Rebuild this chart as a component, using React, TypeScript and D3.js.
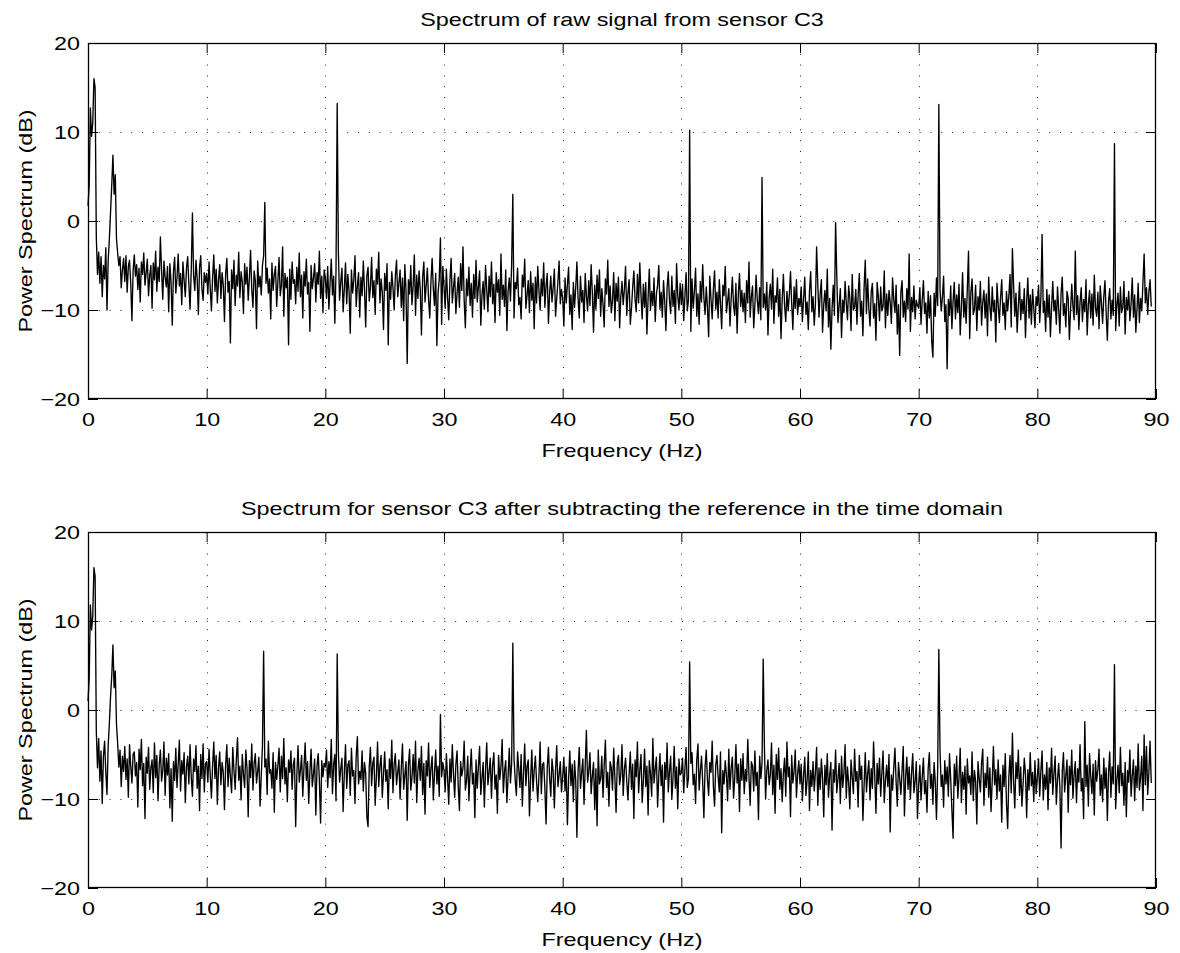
import React, { useEffect, useRef } from "react";
import * as d3 from "d3";

// spectrum bins are 0.1 Hz apart, 0 .. 89.6 Hz
const STEP = 0.1;

// raw signal, noise floor in dB, one array per 10 Hz band
const raw0 = [1.7, 4, 12.7, 9.5, 11, 16, 15, -1.8, -6, -3.5,
  -7, -4, -8.5, -5, -6.5, -3, -10, -4.5, -2, 1,
  4, 7.4, 3, 5.2, -2, -3.6, -5, -4, -7.5, -5.5,
  -4.2, -6.8, -3.9, -8, -5.1, -4.4, -7, -11.2, -5.6, -3.8,
  -6.2, -4.9, -7.7, -5.3, -9.1, -4.6, -6, -3.6, -7.2, -5.8,
  -4.3, -8.4, -6.1, -5, -9.8, -4.7, -6.6, -3.4, -7.9, -5.2,
  -6.8, -4.1, -5.5, -8.8, -4.5, -6.3, -7.4, -5.1, -10.2, -4.8,
  -6.9, -11.7, -5.7, -4.1, -8.1, -6.4, -3.7, -7.3, -5.9, -9.4,
  -4.6, -6.7, -8.5, -5.3, -4, -7.1, -9.9, -5.6, -6, -6.2,
  -7.8, -4.4, -6.5, -10.5, -5.2, -3.9, -7.6, -8.9, -5.8, -6.9];
const raw10 = [-5.9, -8.2, -4.6, -7.5, -10.1, -6.3, -3.8, -7.9, -5.4, -9.2,
  -6.6, -4.9, -8.7, -5.8, -7.2, -11.3, -6, -4.2, -8, -6.8,
  -13.7, -5.5, -7.6, -4.4, -9.5, -6.1, -7.3, -3.5, -8.6, -5.7,
  -6.9, -10.4, -4.8, -7.1, -5.2, -8.9, -6.4, -3.3, -7.7, -9.7,
  -5.6, -6.7, -12.1, -4.5, -7.4, -6.2, -8.3, -5, -3.9, -9,
  -7, -5.3, -8.1, -6.5, -11, -4.7, -7.8, -6, -5.1, -9.6,
  -6.8, -4.1, -8.4, -7.2, -2.9, -10.7, -5.9, -7.5, -6.3, -13.9,
  -5.4, -8.8, -4.6, -7, -6.6, -9.3, -5.2, -7.9, -3.6, -8.5,
  -6.1, -10.9, -5.7, -7.3, -4.3, -8.2, -6.9, -12.4, -5, -7.6,
  -6.4, -4.8, -9.1, -5.8, -7.1, -3.4, -8.7, -6.2, -10.3, -5.5];
const raw20 = [-6.4, -8.7, -5.1, -9.9, -7, -4.3, -8.3, -6.2, -11.5, -5.6,
  -7.2, -3.6, -8.9, -6.8, -5.3, -10.2, -7.6, -4.7, -9.3, -6,
  -7.9, -12.6, -5.5, -8.1, -6.6, -3.9, -9.6, -7.3, -5.8, -10.8,
  -6.3, -8.4, -4.5, -7.7, -11.9, -6.1, -5.2, -9, -7.4, -4.1,
  -8.6, -6.7, -10.5, -5.4, -7.1, -3.5, -9.2, -6.5, -8, -12.2,
  -5.9, -7.8, -4.8, -13.9, -6.9, -8.8, -5.7, -7.5, -10, -6.2,
  -4.4, -8.5, -7, -5.5, -9.7, -6.4, -11.2, -4.9, -7.9, -16,
  -6.6, -8.2, -5, -9.4, -7.3, -3.8, -10.6, -6.1, -8.7, -5.6,
  -7.7, -12.8, -6.3, -4.6, -9.1, -7.2, -5.3, -8.9, -10.9, -6.8,
  -4.2, -7.6, -9.5, -5.9, -14, -8.1, -6.5, -7.4, -11.6, -5.1];
const raw30 = [-7.3, -9.8, -5.4, -8.6, -11.1, -6.7, -4.2, -9.2, -7.5, -5.9,
  -10.4, -8.1, -6.3, -9.7, -4.8, -7.8, -2.9, -8.9, -12, -6.5,
  -8.4, -5.2, -9.5, -7, -10.8, -6, -8.7, -4.4, -9.1, -7.4,
  -5.6, -11.7, -8.3, -6.8, -9.9, -5, -7.7, -10.2, -6.2, -8.5,
  -4.6, -9.3, -7.1, -11.4, -5.8, -8, -6.6, -10.6, -3.7, -8.8,
  -7.2, -9.6, -5.5, -12.3, -7.9, -6.4, -9, -4.9, -8.2, -10.9,
  -6.9, -7.6, -5.3, -9.4, -8.6, -11, -6.1, -7.4, -4.3, -9.8,
  -8.3, -6.7, -10.3, -5.7, -8.9, -7, -12.1, -6.3, -9.2, -5.1,
  -7.8, -10, -6.5, -8.4, -4.7, -9.7, -7.3, -5.9, -11.5, -8.1,
  -6.2, -9.1, -7.5, -5.4, -10.7, -8.7, -6.8, -4.5, -9.3, -7.7];
const raw40 = [-8.6, -11.8, -6.4, -9.2, -7.1, -5.2, -10.5, -8.3, -12.2, -6.9,
  -9.7, -7.5, -4.6, -8.8, -10.9, -6.2, -9.1, -7.8, -11.4, -5.9,
  -8.4, -10.1, -6.7, -9.5, -4.9, -8, -12.5, -7.2, -9.9, -6.1,
  -8.7, -5.5, -10.7, -7.6, -9.3, -11.9, -6.5, -8.2, -4.4, -9.6,
  -7.3, -10.3, -8.9, -5.8, -11.2, -7, -9, -6.3, -12, -8.5,
  -6.8, -9.4, -7.7, -5.1, -10.6, -8.1, -6.6, -11.6, -9.8, -7.4,
  -5.6, -8.8, -10.2, -6, -9.2, -4.7, -8.3, -11, -7.1, -9.7,
  -6.9, -12.7, -8.6, -5.4, -10, -7.9, -9.5, -6.4, -11.3, -8.2,
  -7.2, -5, -9.9, -8, -10.8, -6.7, -9.1, -12.3, -7.5, -5.7,
  -8.9, -10.4, -6.2, -9.6, -7.8, -11.5, -4.8, -8.4, -10, -7];
const raw50 = [-9.4, -7.1, -11.2, -8.5, -5.8, -10.1, -8.9, -7.3, -12.4, -6.5,
  -9.8, -7.9, -5.3, -10.7, -8.2, -11.6, -6.8, -9.1, -4.9, -8.6,
  -10.5, -7.4, -9.7, -13, -6.2, -8.8, -11, -7.7, -5.6, -9.9,
  -8, -10.9, -6.6, -9.3, -12.1, -7.2, -8.4, -5.1, -10.3, -9,
  -7.6, -11.8, -8.7, -6.3, -9.5, -10.6, -7, -12.6, -8.3, -5.9,
  -9.6, -7.8, -10.2, -8.1, -11.4, -6.7, -9.2, -4.6, -10.8, -8.5,
  -7.3, -12, -9.4, -6.1, -8.9, -10.4, -7.5, -11.1, -5.5, -9.7,
  -8.2, -10, -6.9, -12.8, -8.6, -7.1, -9.9, -5.4, -11.5, -8.4,
  -9.1, -6.4, -10.7, -7.7, -13.2, -8.8, -6, -9.5, -11.3, -7.9,
  -10.1, -8.3, -5.7, -9.3, -12.2, -7.4, -9.8, -6.6, -10.5, -8.7];
const raw60 = [-9.6, -7.4, -11.3, -8.8, -6.3, -10.5, -9.1, -12.2, -7.9, -5.7,
  -10.2, -8.5, -11.7, -9.3, -2.9, -7.1, -10.8, -8.2, -6.6, -12.5,
  -9.4, -7.8, -10.1, -5.4, -11.9, -8.7, -14.4, -9.9, -7.2, -10.6,
  -8.1, -6.2, -11.4, -9.5, -7.6, -13.1, -8.9, -10.3, -6.8, -9.2,
  -11.1, -7.3, -8.6, -12.3, -6, -10, -9.7, -7.7, -11.6, -8.3,
  -5.9, -10.7, -9, -12.9, -7.5, -8.4, -10.4, -6.5, -9.8, -11.8,
  -8, -7, -10.9, -9.3, -13.4, -6.9, -8.5, -11.2, -7.4, -10.1,
  -9.6, -5.6, -12, -8.2, -10.6, -7.8, -9.1, -11.5, -6.4, -8.8,
  -10.3, -7.2, -12.7, -9.4, -15.1, -8, -6.7, -10.8, -9, -11.3,
  -7.6, -9.9, -6.1, -12.4, -8.6, -10.2, -7.3, -11, -8.9, -9.5];
const raw70 = [-9.8, -7.5, -11.6, -8.9, -6.7, -10.4, -9.2, -12.6, -7.9, -10.9,
  -8.4, -13.5, -15.3, -8.1, -10.7, -6.4, -9.5, -11.8, -7.7, -10.1,
  -8.6, -6.2, -11.3, -9.4, -16.6, -8.8, -10.6, -7.3, -12.1, -9,
  -6.9, -11, -8.3, -10.3, -7.1, -12.8, -9.7, -5.8, -10.8, -8.7,
  -11.5, -7.6, -9.3, -13.2, -8, -6.5, -10.5, -9.9, -7.2, -12.3,
  -8.5, -10, -6.8, -11.7, -9.1, -7.8, -10.9, -8.2, -12.9, -6.3,
  -9.6, -11.2, -7.4, -10.2, -8.9, -13.6, -7, -9.4, -11.4, -8.6,
  -6.6, -10.6, -9.2, -12.2, -7.9, -10.1, -8.4, -6, -11.9, -9.7,
  -7.3, -10.7, -8.1, -12.5, -9.5, -6.9, -11.1, -8.8, -10.4, -7.6,
  -13.1, -9, -6.4, -10.9, -8.3, -11.6, -7.7, -9.8, -12, -8.5];
const raw80 = [-9.5, -7.2, -11.4, -8.6, -6.5, -10.3, -9, -12.4, -7.7, -10.8,
  -8.3, -13, -9.7, -6.8, -10.1, -8.9, -11.6, -7.4, -9.9, -12.6,
  -8.1, -6.3, -10.6, -9.3, -11.9, -7.9, -8.7, -13.3, -10, -7.1,
  -9.6, -11.1, -6.9, -10.5, -8.4, -12.2, -9.1, -7.5, -11.3, -8.8,
  -10.2, -6.6, -12.8, -9.4, -7.8, -10.9, -8.2, -11.7, -6.1, -9.8,
  -10.7, -8, -12.1, -7.3, -9.2, -11.5, -8.5, -6.7, -10.4, -13.4,
  -9, -7.6, -11, -8.9, -10.6, -6.2, -12.3, -9.5, -8.1, -11.8,
  -7.4, -10.3, -9.7, -6.8, -12.7, -8.6, -10, -7.9, -11.2, -9.3,
  -6.4, -10.8, -8.3, -12.5, -9.9, -7, -11.4, -8.7, -10.1, -6.9,
  -12, -9.2, -7.5, -10.5, -8, -6.6, -9.6];

// narrow line peaks in the raw spectrum
const rawPeakHz = [6.1, 8.8, 14.9, 21.0, 29.7, 35.8, 50.7, 56.8, 63.0, 65.5, 69.2, 71.7, 74.2, 77.9, 80.4, 83.2, 86.5, 89.0];
const rawPeakDb = [-1.8, 0.9, 2.1, 13.2, -1.9, 3.0, 10.2, 4.9, -0.2, -4.4, -3.7, 13.1, -3.4, -3.1, -1.5, -3.4, 8.7, -3.7];

// after subtracting the reference, noise floor in dB per 10 Hz band
const sub0 = [1, 3.5, 11.8, 9, 10.5, 16, 15, -2.4, -6.5, -3.2,
  -8, -4.6, -10.5, -5.2, -3.5, -7, -9.5, -4, -1.5, 1.5,
  3.8, 7.3, 2.5, 4.4, -1.6, -3.8, -6.4, -4.5, -8.6, -5.2,
  -6.9, -4.1, -7.8, -5.5, -9.8, -3.9, -6.3, -8.2, -5, -4.7,
  -7.4, -5.9, -10.9, -4.4, -6.7, -3.3, -8.5, -6, -12.2, -5.3,
  -7.1, -4.2, -8.9, -6.5, -5.6, -9.3, -3.7, -7.6, -5.1, -10.2,
  -6.2, -4.5, -8, -6.8, -3.6, -9.6, -5.4, -7.3, -4.9, -11,
  -6.6, -12.5, -5.8, -7.9, -4.3, -8.7, -6.1, -3.4, -9.1, -5.7,
  -7.2, -4.8, -10.4, -6.4, -5.2, -8.3, -3.9, -7.5, -9.7, -5.5,
  -6.9, -4, -8.8, -6.3, -11.3, -5, -7.7, -3.8, -9.2, -6];
const sub10 = [-5.8, -8.1, -4.4, -7.3, -9.9, -6.2, -3.6, -7.7, -5.1, -10.6,
  -6.5, -4.7, -8.4, -5.9, -7, -11.2, -6.1, -3.9, -8.6, -5.4,
  -7.5, -9.3, -4.2, -6.8, -8.9, -5.6, -3.1, -7.9, -6.3, -10.1,
  -5, -7.2, -8.7, -4.5, -6.6, -12, -5.7, -7.6, -3.8, -9,
  -6, -4.9, -8.2, -6.9, -5.3, -10.8, -7.4, -4.1, -8.5, -6.4,
  -5.5, -9.5, -3.5, -7.1, -6.7, -8.8, -4.8, -11.5, -5.9, -7.8,
  -6.2, -4.3, -9.2, -5.2, -7.7, -3.2, -8.3, -6.5, -10.3, -5.6,
  -7, -4.6, -8.9, -6.1, -5.4, -13.1, -7.3, -4, -8.1, -6.8,
  -5.1, -9.7, -6.4, -3.7, -7.9, -5.8, -10.5, -6.9, -4.4, -8.6,
  -7.2, -5.5, -11.8, -6.3, -4.9, -8, -12.7, -5.7, -7.5, -6];
const sub20 = [-6.4, -4.5, -8.7, -5.8, -7.6, -3.3, -9.4, -6.1, -5, -10.2,
  -7.3, -4.8, -8.1, -6.6, -5.4, -11.4, -7, -3.9, -8.8, -6.2,
  -5.7, -9.6, -4.3, -7.4, -6.8, -10.5, -5.2, -3, -8.3, -6.9,
  -7.8, -4.6, -9.1, -5.9, -7.1, -12, -13.1, -6.4, -4.2, -8.5,
  -6, -5.3, -10.7, -7.5, -3.6, -8.6, -6.3, -5.1, -9.8, -7.2,
  -4.7, -8, -6.7, -11.1, -5.5, -7.7, -3.4, -9.3, -6.1, -4.9,
  -8.4, -7, -5.6, -10, -6.5, -3.8, -8.9, -7.3, -5.8, -12.4,
  -6.2, -4.4, -9, -7.6, -5, -8.2, -3.5, -10.4, -6.8, -5.4,
  -7.9, -4.1, -9.5, -6, -11.7, -5.7, -7.4, -3.7, -8.7, -6.6,
  -5.2, -10.1, -7.1, -4.5, -8.3, -6.3, -9.7, -2.8, -7.5, -5.9];
const sub30 = [-6.8, -9.2, -4.9, -7.7, -10.6, -5.5, -8.1, -3.9, -7.2, -9.8,
  -6.1, -4.6, -8.6, -11.3, -5.8, -7.4, -6.5, -3.5, -9, -7.9,
  -5.2, -10.2, -6.9, -4.4, -8.3, -7.1, -12.1, -5.6, -8.8, -6.3,
  -4.1, -9.5, -7.6, -5.9, -10.9, -6.7, -3.7, -8.4, -7, -5.4,
  -9.9, -6.2, -4.8, -8.9, -7.3, -11.6, -5.1, -7.8, -6.4, -3.3,
  -9.3, -6.9, -5.7, -10.4, -7.5, -4.3, -8.2, -6, -7.1, -5.3,
  -7.9, -9.6, -4.7, -6.6, -8.7, -5, -10.8, -7.2, -3.8, -8.5,
  -6.3, -5.6, -11.9, -7.7, -4.5, -9.1, -6.8, -5.2, -8, -10.3,
  -7.4, -3.6, -9.4, -6.1, -5.9, -8.8, -12.8, -6.5, -4.2, -7.6,
  -9.7, -5.5, -7, -11, -6.7, -4, -8.6, -7.3, -5.8, -9.2];
const sub40 = [-7.5, -5.3, -9.1, -6.4, -12.9, -7.8, -4.6, -8.5, -6.1, -10.3,
  -5.7, -7.9, -14.3, -6.8, -4.2, -8.8, -7.1, -5.5, -10.6, -6.3,
  -2.3, -8.1, -6.9, -4.8, -9.4, -7.4, -5.9, -11.2, -6.6, -13,
  -4.5, -8.3, -7.7, -5.2, -9.8, -6.2, -3.4, -8.7, -7, -10.8,
  -5.8, -6.5, -9, -4.3, -7.6, -11.5, -6, -5.1, -8.4, -7.3,
  -3.9, -9.6, -6.7, -5.4, -8, -10.1, -7.2, -4.7, -8.9, -6.1,
  -12.2, -5.6, -7.5, -3.6, -9.3, -6.8, -5, -10.4, -7.9, -4.4,
  -8.6, -6.3, -11.8, -5.7, -7.1, -9.7, -3.2, -8.2, -6.6, -5.3,
  -10.9, -7.4, -4.9, -8.5, -6.2, -12.6, -5.9, -7.8, -3.7, -9.2,
  -6.9, -5.2, -10, -7.6, -4.1, -8.8, -6.4, -11.1, -5.5, -7.3];
const sub50 = [-7.1, -5.4, -9.3, -6.6, -4.2, -8.7, -7.7, -11, -6, -4.8,
  -8.4, -7.2, -10.5, -5.6, -3.8, -9, -6.9, -5.2, -8.1, -12.1,
  -6.4, -4.5, -7.8, -9.6, -5.9, -7, -3.5, -8.6, -10.8, -6.2,
  -5.1, -7.5, -9.2, -4.7, -13.8, -6.8, -8.3, -5.7, -7.3, -10.2,
  -4.4, -8.9, -6.5, -5.3, -9.9, -7.6, -3.9, -8.2, -6.1, -11.4,
  -5.5, -7.9, -4.9, -9.4, -6.7, -8, -3.3, -7.4, -10.7, -5.8,
  -6.3, -9.1, -4.6, -8.5, -7, -12.3, -5.2, -7.7, -6, -8.8,
  -4.1, -10, -6.8, -5.6, -8.4, -7.3, -3.7, -9.5, -6.2, -11.6,
  -5, -7.8, -4.3, -8.9, -6.6, -10.3, -7.1, -5.4, -9.7, -3.6,
  -7.5, -6.4, -12, -5.1, -8.2, -6.9, -4.5, -9.8, -7.2, -5.7];
const sub60 = [-8.3, -6.1, -10.2, -7.4, -5.3, -9.6, -7.9, -4.7, -11.3, -6.8,
  -8.6, -5.8, -9.1, -7, -4.2, -10.7, -6.5, -8.9, -5.5, -7.6,
  -12, -6.2, -8.4, -4.9, -9.8, -7.3, -5.9, -13.5, -6.7, -8.1,
  -4.5, -9.3, -7.7, -6, -10.5, -5.2, -8.7, -7.1, -3.9, -9.9,
  -6.4, -8.2, -11.1, -5.6, -7.5, -9.4, -4.4, -8, -6.9, -10.9,
  -5.1, -7.8, -6.3, -12.4, -8.5, -4.8, -9.2, -7.2, -5.7, -10.1,
  -6.6, -8.8, -3.6, -7.4, -11.6, -6, -8.3, -5.4, -9.7, -7,
  -4.6, -10.4, -7.9, -6.2, -8.6, -5, -13.7, -7.3, -9, -6.5,
  -4.3, -8.1, -10.8, -5.9, -7.7, -9.5, -6.8, -4.1, -11.9, -7.6,
  -5.3, -8.9, -6.4, -10, -7.1, -4.9, -9.3, -8, -5.8, -12.2];
const sub70 = [-8.4, -6.2, -10.1, -7.5, -5.4, -9.4, -7.9, -11.5, -6.6, -4.8,
  -8.8, -7.2, -10.6, -5.9, -8.1, -12.3, -6.9, -9, -4.6, -8.6,
  -7.3, -10.9, -5.7, -8.3, -6.4, -9.7, -4.9, -7.8, -11.2, -14.4,
  -6.1, -8.5, -5.2, -9.9, -7.6, -4.3, -10.4, -7, -8.9, -6.3,
  -11.7, -5.5, -8.2, -7.4, -9.5, -4.7, -10.2, -6.8, -8, -12.8,
  -5.8, -7.7, -9.2, -6, -4.4, -10.7, -7.1, -8.7, -5.3, -9.8,
  -6.5, -11.4, -7.9, -4.1, -8.4, -6.7, -10, -5.6, -9.1, -7.3,
  -12.6, -6.2, -8.6, -4.9, -10.5, -13.3, -7.5, -5.1, -9.3, -6.9,
  -8.1, -11, -5.9, -7.7, -4.5, -9.6, -6.4, -10.8, -8.3, -5.4,
  -7.2, -12.1, -6.7, -9, -4.8, -8.5, -7, -10.3, -5.7, -9.4];
const sub80 = [-7.6, -5.5, -9.7, -6.8, -4.6, -10.1, -7.3, -8.9, -5.9, -11.2,
  -6.5, -8.2, -4.3, -9.5, -7.1, -5.2, -10.6, -7.8, -6, -8.7,
  -15.5, -6.9, -4.8, -9.2, -7.4, -5.6, -11.5, -6.3, -8.4, -4.5,
  -9.9, -7.2, -5.8, -10.4, -6.6, -8.1, -3.9, -9.1, -7.7, -12.2,
  -5.3, -8.6, -6.2, -10.8, -4.9, -7.5, -9.4, -6.1, -11.8, -5.7,
  -8, -6.7, -4.4, -9.6, -7.3, -10.3, -5.4, -8.8, -6.5, -12.4,
  -7, -4.7, -9.8, -6.4, -8.3, -5.1, -11.1, -7.9, -6.2, -9.3,
  -4.2, -8.5, -7.1, -10.7, -5.9, -12, -6.8, -8.1, -4.5, -9.7,
  -7.4, -5.6, -10.2, -6.3, -8.7, -3.8, -9, -7.6, -5.2, -11.3,
  -6.6, -8.4, -4.1, -9.5, -7, -3.5, -8.2];

const subPeakHz = [14.8, 21.0, 29.7, 35.8, 50.7, 56.9, 71.7, 77.9, 84.0, 86.5, 89.0];
const subPeakDb = [6.6, 6.3, -0.5, 7.5, 5.4, 5.7, 6.8, -2.6, -1.3, 5.1, -2.8];

const xTicks = [0, 10, 20, 30, 40, 50, 60, 70, 80, 90];
const yTicks = [-20, -10, 0, 10, 20];

const titles = [
  "Spectrum of raw signal from sensor C3",
  "Spectrum for sensor C3 after subtracting the reference in the time domain",
];
const xLabel = "Frequency (Hz)";
const yLabel = "Power Spectrum (dB)";

type Bin = { hz: number; db: number };

const buildSeries = (bands: number[][], peakHz: number[], peakDb: number[]): Bin[] => {
  const values = ([] as number[]).concat(...bands);
  peakHz.forEach((hz, i) => {
    values[Math.round(hz / STEP)] = peakDb[i];
  });
  return values.map((db, i) => ({ hz: i * STEP, db }));
};

const rawSeries = buildSeries([raw0, raw10, raw20, raw30, raw40, raw50, raw60, raw70, raw80], rawPeakHz, rawPeakDb);
const subSeries = buildSeries([sub0, sub10, sub20, sub30, sub40, sub50, sub60, sub70, sub80], subPeakHz, subPeakDb);

const WIDTH = 1180;
const HEIGHT = 953;
const FONT = "'Liberation Sans', Arial, Helvetica, sans-serif";
const STRETCH = 1.23; // the reference glyphs are wider than Arial

export default function App() {
  const ref = useRef<SVGSVGElement>(null);

  useEffect(() => {
    const svg = d3.select(ref.current);
    svg.selectAll("*").remove();

    const left = 88;
    const right = 1156;
    const plotH = 356;
    const x = d3.scaleLinear().domain([0, 90]).range([left, right]);

    const drawPanel = (top: number, title: string, series: Bin[]) => {
      const bottom = top + plotH;
      const y = d3.scaleLinear().domain([-20, 20]).range([bottom, top]);
      const g = svg.append("g");

      // dotted grid
      g.append("g").selectAll("line").data(xTicks.slice(1, -1)).join("line")
        .attr("x1", d => Math.round(x(d)) + 0.5).attr("x2", d => Math.round(x(d)) + 0.5)
        .attr("y1", top).attr("y2", bottom)
        .attr("stroke", "#222").attr("stroke-dasharray", "1,9.8");
      g.append("g").selectAll("line").data(yTicks.slice(1, -1)).join("line")
        .attr("y1", d => Math.round(y(d)) + 0.5).attr("y2", d => Math.round(y(d)) + 0.5)
        .attr("x1", left).attr("x2", right)
        .attr("stroke", "#222").attr("stroke-dasharray", "1,9.8");

      // spectrum trace
      const line = d3.line<Bin>().x(d => x(d.hz)).y(d => y(d.db));
      g.append("path").datum(series).attr("d", line)
        .attr("fill", "none").attr("stroke", "#000").attr("stroke-width", 1.35)
        .attr("stroke-linejoin", "round");

      // inward ticks on all four sides
      const styleAxis = (a: d3.Selection<SVGGElement, unknown, null, undefined>) => {
        a.select(".domain").remove();
        a.selectAll(".tick line").attr("stroke", "#000");
        a.selectAll("text").attr("fill", "#000").style("font-family", FONT).style("font-size", "19px");
      };
      g.append("g").attr("transform", `translate(0,${bottom})`)
        .call(d3.axisBottom(x).tickValues(xTicks).tickSize(-10).tickPadding(14).tickFormat(d3.format("d")))
        .call(styleAxis)
        .selectAll("text").attr("transform", `scale(${STRETCH},1)`);
      g.append("g").attr("transform", `translate(0,${top})`)
        .call(d3.axisTop(x).tickValues(xTicks).tickSize(-10).tickFormat(() => ""))
        .call(styleAxis);
      g.append("g").attr("transform", `translate(${left},0)`)
        .call(d3.axisLeft(y).tickValues(yTicks).tickSize(-10).tickPadding(6.5).tickFormat(d3.format("d")))
        .call(styleAxis)
        .selectAll("text").attr("transform", `scale(${STRETCH},1)`);
      g.append("g").attr("transform", `translate(${right},0)`)
        .call(d3.axisRight(y).tickValues(yTicks).tickSize(-10).tickFormat(() => ""))
        .call(styleAxis);

      // box
      g.append("rect").attr("x", left + 0.5).attr("y", top + 0.5)
        .attr("width", right - left - 1).attr("height", plotH - 1)
        .attr("fill", "none").attr("stroke", "#000").attr("stroke-width", 1.3);

      const mid = (left + right) / 2;
      const label = (tx: number, ty: number, rot: number, text: string) =>
        g.append("text")
          .attr("transform", `translate(${tx},${ty}) rotate(${rot}) scale(${STRETCH},1)`)
          .attr("text-anchor", "middle").attr("fill", "#000")
          .style("font-family", FONT).style("font-size", "19px")
          .text(text);

      label(mid, top - 17, 0, title);
      label(mid, bottom + 58, 0, xLabel);
      label(32, (top + bottom) / 2, -90, yLabel);
    };

    drawPanel(43, titles[0], rawSeries);
    drawPanel(532, titles[1], subSeries);
  }, []);

  return (
    <svg ref={ref} width={WIDTH} height={HEIGHT}
      style={{ position: "absolute", left: 0, top: 0, background: "#fff" }} />
  );
}
